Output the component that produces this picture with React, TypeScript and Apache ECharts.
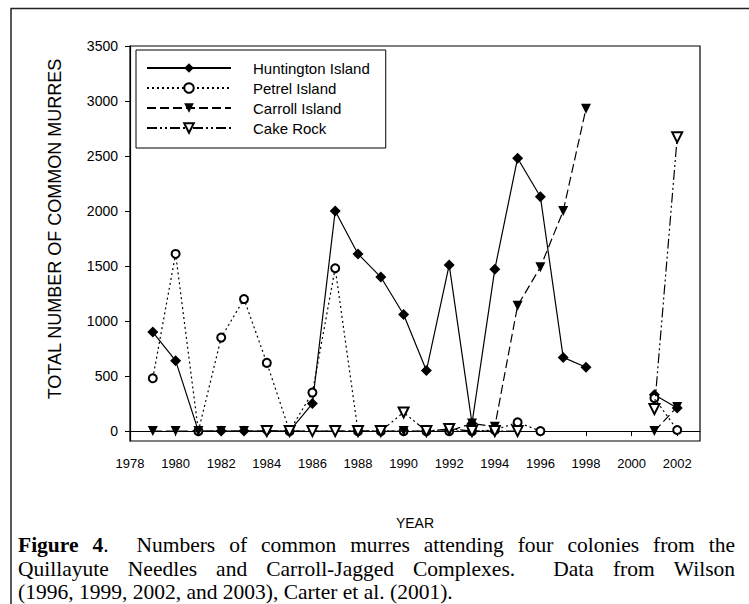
import React, { useEffect, useRef } from "react";
import * as echarts from "echarts";

const years = [1979, 1980, 1981, 1982, 1983, 1984, 1985, 1986, 1987, 1988, 1989, 1990, 1991, 1992, 1993, 1994, 1995, 1996, 1997, 1998, 1999, 2000, 2001, 2002];
const huntington = [900, 640, 0, 0, 0, 0, 0, 250, 2000, 1610, 1400, 1060, 550, 1510, 70, 1470, 2480, 2130, 670, 580, null, null, 330, 210];
const petrel = [480, 1610, 0, 850, 1200, 620, 0, 350, 1480, 0, 0, 0, 0, 0, 0, 10, 80, 0, null, null, null, null, 300, 10];
const carroll = [0, 0, 0, 0, 0, 0, 0, 0, 0, 0, 0, 0, 0, 0, 70, 40, 1140, 1490, 2000, 2930, null, null, 0, 220];
const cakeRock = [null, null, null, null, null, 0, 0, 0, 0, 0, 0, 170, 0, 20, 0, 0, 0, null, null, null, null, null, 200, 2670];
const seriesNames = ["Huntington Island", "Petrel Island", "Carroll Island", "Cake Rock"];
const xTickValues = [1978, 1980, 1982, 1984, 1986, 1988, 1990, 1992, 1994, 1996, 1998, 2000, 2002];
const yTickValues = [0, 500, 1000, 1500, 2000, 2500, 3000, 3500];
const yAxisTitle = "TOTAL NUMBER OF COMMON MURRES";
const xAxisTitle = "YEAR";
const captionLines = [
  { text: "**Figure** **4**.  Numbers of common murres attending four colonies from the", justify: true },
  { text: "Quillayute Needles and Carroll-Jagged Complexes.  Data from Wilson", justify: true },
  { text: "(1996, 1999, 2002, and 2003), Carter et al. (2001).", justify: false },
];

const SANS = '"Liberation Sans", Arial, sans-serif';
const SERIF = '"Liberation Serif", "Times New Roman", serif';

function pairs(vals: (number | null)[]) {
  return years.map((y, i) => [y, vals[i] === null ? "-" : vals[i]]);
}

function buildCaption(left: number, right: number, top: number, lineH: number, size: number) {
  const cv = document.createElement("canvas");
  const ctx = cv.getContext("2d")!;
  const measure = (t: string, bold: boolean) => {
    ctx.font = `${bold ? "bold " : ""}${size}px ${SERIF}`;
    return ctx.measureText(t).width;
  };
  const els: any[] = [];
  captionLines.forEach((line, li) => {
    const raw = line.text.split(" ");
    const words: { runs: { t: string; b: boolean }[]; w: number; gap: number }[] = [];
    let pending = 0;
    raw.forEach((tok) => {
      if (tok === "") {
        pending += 1;
        return;
      }
      const parts = tok.split("**");
      const runs = parts.map((p, k) => ({ t: p, b: k % 2 === 1 })).filter((r) => r.t.length > 0);
      const w = runs.reduce((s, r) => s + measure(r.t, r.b), 0);
      words.push({ runs, w, gap: words.length === 0 ? 0 : 1 + pending });
      pending = 0;
    });
    const totalW = words.reduce((s, w) => s + w.w, 0);
    const totalGap = words.reduce((s, w) => s + w.gap, 0);
    const unit = line.justify ? (right - left - totalW) / totalGap : measure(" ", false);
    let x = left;
    const y = top + li * lineH;
    words.forEach((w) => {
      x += w.gap * unit;
      let rx = x;
      w.runs.forEach((r) => {
        els.push({
          type: "text",
          x: rx,
          y,
          silent: true,
          style: {
            text: r.t,
            fontFamily: SERIF,
            fontSize: size,
            lineHeight: size,
            fontWeight: r.b ? "bold" : "normal",
            fill: "#000",
            verticalAlign: "middle",
          },
        });
        rx += measure(r.t, r.b);
      });
      x += w.w;
    });
  });
  return els;
}

export default function App() {
  const ref = useRef<HTMLDivElement>(null);
  useEffect(() => {
    const chart = echarts.init(ref.current!, undefined, { renderer: "svg" });
    const lineBase = { color: "#000", width: 1.2 };
    const option: any = {
      animation: false,
      backgroundColor: "#fff",
      grid: {
        left: 130,
        right: 49,
        top: 46,
        bottom: 163,
        show: true,
        borderColor: "#000",
        borderWidth: 1.2,
        backgroundColor: "transparent",
      },
      legend: {
        orient: "vertical",
        left: 136,
        top: 50,
        itemWidth: 84,
        itemHeight: 12,
        itemGap: 5,
        padding: [10.5, 16, 12.5, 10],
        borderColor: "#000",
        borderWidth: 1,
        backgroundColor: "#fff",
        selectedMode: false,
        data: seriesNames,
        textStyle: { fontFamily: SANS, fontSize: 15, color: "#000", padding: [0, 0, 0, 17] },
      },
      xAxis: {
        type: "value",
        min: 1978,
        max: 2003,
        splitLine: { show: false },
        axisLine: { show: true, lineStyle: { color: "#000", width: 1.2 } },
        axisTick: { show: true, inside: false, length: 5, customValues: xTickValues, lineStyle: { color: "#000" } },
        axisLabel: {
          customValues: xTickValues,
          formatter: (v: number) => String(v),
          color: "#000",
          fontFamily: SANS,
          fontSize: 13,
          margin: 16,
        },
      },
      yAxis: {
        type: "value",
        min: -90,
        max: 3500,
        splitLine: { show: false },
        axisLine: { show: true, lineStyle: { color: "#000", width: 1.2 } },
        axisTick: { show: true, inside: false, length: 5, customValues: yTickValues, lineStyle: { color: "#000" } },
        axisLabel: {
          customValues: yTickValues,
          formatter: (v: number) => String(v),
          color: "#000",
          fontFamily: SANS,
          fontSize: 14,
          margin: 12,
        },
      },
      series: [
        {
          name: seriesNames[0],
          type: "line",
          data: pairs(huntington),
          symbol: "diamond",
          symbolSize: 11,
          itemStyle: { color: "#000" },
          lineStyle: { ...lineBase, type: "solid" },
          z: 2,
        },
        {
          name: seriesNames[1],
          type: "line",
          data: pairs(petrel),
          symbol: "emptyCircle",
          symbolSize: 8,
          itemStyle: { color: "#000", borderWidth: 1.1 },
          lineStyle: { ...lineBase, type: [2, 3] },
          z: 3,
        },
        {
          name: seriesNames[2],
          type: "line",
          data: pairs(carroll),
          symbol: "triangle",
          symbolRotate: 180,
          symbolSize: 10,
          itemStyle: { color: "#000" },
          lineStyle: { ...lineBase, type: [9, 4] },
          z: 4,
        },
        {
          name: seriesNames[3],
          type: "line",
          data: pairs(cakeRock),
          symbol: "emptyTriangle",
          symbolRotate: 180,
          symbolSize: 10,
          itemStyle: { color: "#000", borderWidth: 1.1 },
          lineStyle: { ...lineBase, type: [10, 3, 2, 3, 2, 3] },
          z: 5,
        },
      ],
      graphic: [
        {
          type: "rect",
          silent: true,
          z: -10,
          shape: { x: 11, y: 8.5, width: 800, height: 700 },
          style: { fill: "none", stroke: "#222", lineWidth: 1.5 },
        },
        {
          type: "text",
          x: 55,
          y: 229,
          rotation: Math.PI / 2,
          silent: true,
          style: {
            text: yAxisTitle,
            fontFamily: SANS,
            fontSize: 18,
            fill: "#000",
            align: "center",
            verticalAlign: "middle",
          },
        },
        {
          type: "text",
          x: 415,
          y: 523,
          silent: true,
          style: {
            text: xAxisTitle,
            fontFamily: SANS,
            fontSize: 14,
            fill: "#000",
            align: "center",
            verticalAlign: "middle",
          },
        },
        ...buildCaption(18, 735, 545, 23.5, 21.5),
      ],
    };
    chart.setOption(option);
    return () => chart.dispose();
  }, []);
  return (
    <div
      ref={ref}
      style={{ position: "fixed", left: 0, top: 0, width: 749, height: 604, background: "#fff" }}
    />
  );
}
